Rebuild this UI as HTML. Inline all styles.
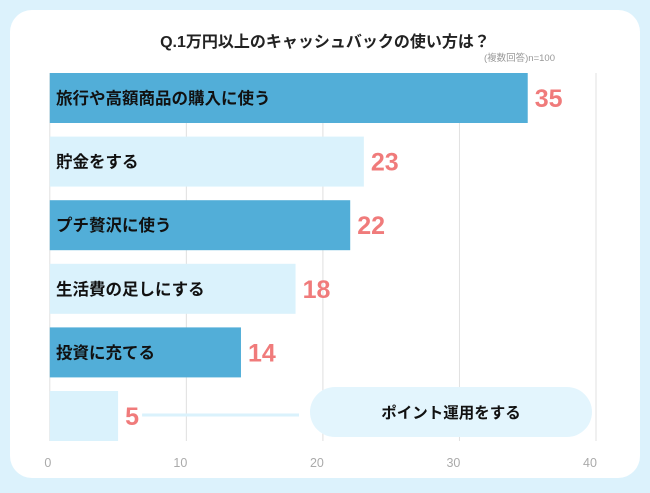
<!DOCTYPE html>
<html><head><meta charset="utf-8"><style>
body{margin:0;width:650px;height:488px;background:#dcf2fc;font-family:"Liberation Sans","Noto Sans CJK JP",sans-serif;overflow:hidden}
</style></head><body>
<svg width="650" height="488">
<rect x="10" y="10" width="630" height="468" rx="22" fill="#fff"/>
<text x="325" y="47" text-anchor="middle" font-size="16" font-weight="bold" fill="#222">Q.1万円以上のキャッシュバックの使い方は？</text>
<text x="555" y="61" text-anchor="end" font-size="9.5" fill="#999">(複数回答)n=100</text>
<g id="grid"></g><g id="bars"></g><g id="ticks"></g>
</svg>
<script>
const categories=["旅行や高額商品の購入に使う","貯金をする","プチ贅沢に使う","生活費の足しにする","投資に充てる","ポイント運用をする"];
const values=[35,23,22,18,14,5];
const ticks=[0,10,20,30,40];
const NS="http://www.w3.org/2000/svg";
const x0=49.8,x1=596;
const xs=v=>x0+(x1-x0)*v/40;
const rowTop=i=>73+i*63.6, bh=50;
function mk(t,a,p){const e=document.createElementNS(NS,t);for(const k in a)e.setAttribute(k,a[k]);p.appendChild(e);return e;}
const g=document.getElementById('grid'),b=document.getElementById('bars'),tk=document.getElementById('ticks');
ticks.forEach(t=>{
 const l=mk('line',{x1:xs(t),x2:xs(t),y1:73,y2:441,stroke:'#e0e0e0','stroke-width':1},g);
 
 
 const tx=mk('text',{x:xs(t)-(t===0?2:6),y:467,'text-anchor':'middle','font-size':12.5,fill:'#aaa'},tk);
 tx.textContent=t;
 
 
});
values.forEach((v,i)=>{
 const y=rowTop(i), dark=i%2===0;
 const r=mk('rect',{x:x0,y:y,width:xs(v)-x0,height:bh,fill:dark?'#52aed8':'#daf2fc'},b);
 
 
 const val=mk('text',{x:xs(v)+7,y:y+bh/2+9,'font-size':25,'font-weight':'bold',fill:'#f07b7b'},b);
 val.textContent=v;
 
 
 if(i<categories.length-1){
  const c=mk('text',{x:56,y:y+bh/2+6,'font-size':16.5,'font-weight':'bold',fill:'#111'},b);
  c.textContent=categories[i];
  
  
 } else {
  const ly=y+24;
  const ln=mk('line',{x1:xs(v)+24,x2:299,y1:ly,y2:ly,stroke:'#daf2fc','stroke-width':3},b);
  
  
  const p=mk('rect',{x:310,y:387,width:282,height:50,rx:25,fill:'#e3f5fd'},b);
  
  
  const c=mk('text',{x:451,y:418,'text-anchor':'middle','font-size':15.5,'font-weight':'bold',fill:'#111'},b);
  c.textContent=categories[i];
  
  
 }
});
</script>
</body></html>
